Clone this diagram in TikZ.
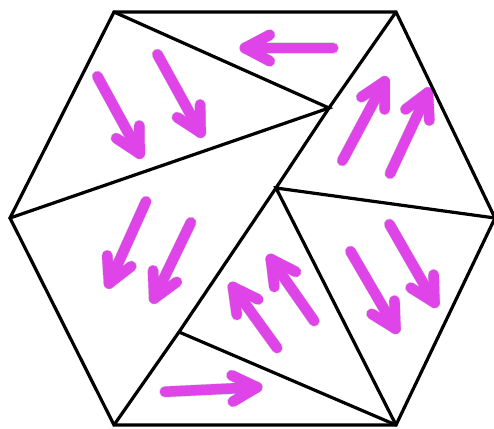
\documentclass[tikz,border=0pt]{standalone}
\usetikzlibrary{calc}
\definecolor{mag}{RGB}{222,68,232}
\tikzset{
  edge/.style={line width=3.2pt, line join=miter, line cap=round},
  parrow/.style={draw=mag, line width=10.5pt, line cap=round, line join=round},
  pshadow/.style={draw=black, opacity=0.12, line width=11.5pt, line cap=round, line join=round},
}
\newcommand\marr[2]{%
  \coordinate (ta) at ($(#1)!5pt!(#2)$);
  \coordinate (tb) at ($(#2)!5pt!(#1)$);
  \coordinate (wa) at ($(tb)!28pt!28:(ta)$);
  \coordinate (wb) at ($(tb)!28pt!-28:(ta)$);
  \begin{scope}[shift={(1.5,1.5)}]
    \draw[pshadow] (ta) -- (tb);
    \draw[pshadow] (wa) -- (tb) -- (wb);
  \end{scope}
  \draw[parrow] (ta) -- (tb);
  \draw[parrow] (wa) -- (tb) -- (wb);
}
\begin{document}
\begin{tikzpicture}[x=1pt,y=-1pt]
\useasboundingbox (0,0) rectangle (494,428);
\fill[white] (0,0) rectangle (494,428);
% vertices
\coordinate (TL) at (114,12);
\coordinate (TR) at (396,12);
\coordinate (R) at (495,218);
\coordinate (BR) at (396,425);
\coordinate (BL) at (114,425);
\coordinate (L) at (10,218);
\coordinate (P1) at (329,108);
\coordinate (P2) at (276,188);
\coordinate (P3) at (179,332);
% arrows
\marr{95,72}{142,158}
\marr{155,50}{203,137}
\marr{148,197}{107,288}
\marr{193,218}{152,303}
\marr{280,352}{230,283}
\marr{317,325}{268,255}
\marr{340,165}{387,77}
\marr{388,178}{430,88}
\marr{348,247}{398,333}
\marr{387,220}{437,307}
\marr{338,48}{240,48}
\marr{160,392}{262,387}
% lines
\draw[edge] (TL) -- (TR) -- (R) -- (BR) -- (BL) -- (L) -- cycle;
\draw[edge] (TL) -- (P1) -- (L);
\draw[edge] (TR) -- (P1) -- (P2);
\draw[edge] (R) -- (P2) -- (BR);
\draw[edge] (P2) -- (P3) -- (BL);
\draw[edge] (P3) -- (BR);
\end{tikzpicture}
\end{document}
